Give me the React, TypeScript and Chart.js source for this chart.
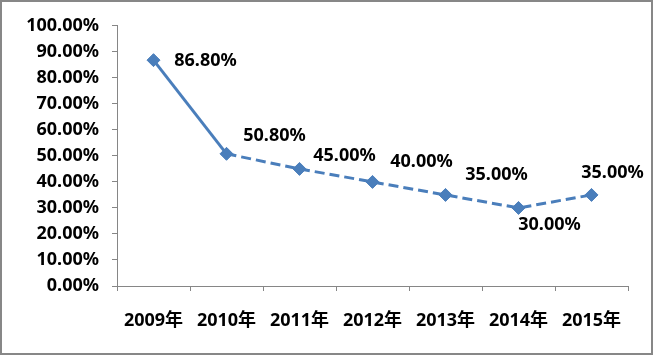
import React, { useEffect, useRef } from "react";
import { Chart, registerables } from "chart.js";

Chart.register(...registerables);

const categories = ["2009年", "2010年", "2011年", "2012年", "2013年", "2014年", "2015年"];
const values = [0.868, 0.508, 0.45, 0.4, 0.35, 0.3, 0.35];
const yTicks = [0, 0.1, 0.2, 0.3, 0.4, 0.5, 0.6, 0.7, 0.8, 0.9, 1.0];

const FONT_FAMILY = "'Noto Sans', 'Noto Sans CJK SC', sans-serif";
const BLUE = "#4A7EBB";
const AXIS = "#868686";

const labelOffsets = [
  [52, 1],
  [48, -18],
  [45, -13],
  [49, -20],
  [51, -20],
  [31, 17],
  [21, -22],
];

const fmt = (v: number) => (v * 100).toFixed(2) + "%";

const dataLabelPlugin = {
  id: "dataLabels",
  afterDatasetsDraw(chart: any) {
    const meta = chart.getDatasetMeta(0);
    const ctx = chart.ctx;
    ctx.save();
    ctx.font = `bold 18px ${FONT_FAMILY}`;
    ctx.fillStyle = "#000";
    ctx.textAlign = "center";
    ctx.textBaseline = "middle";
    meta.data.forEach((pt: any, i: number) => {
      const [dx, dy] = labelOffsets[i];
      ctx.fillText(fmt(values[i]), pt.x + dx, pt.y + dy);
    });
    ctx.restore();
  },
};

export default function App() {
  const ref = useRef<HTMLCanvasElement | null>(null);

  useEffect(() => {
    document.body.style.margin = "0";
    if (!ref.current) return;
    const chart = new Chart(ref.current, {
      type: "line",
      data: {
        labels: categories,
        datasets: [
          {
            data: values,
            borderColor: BLUE,
            backgroundColor: BLUE,
            borderWidth: 3,
            pointStyle: "rectRot",
            pointRadius: 6.5,
            pointBackgroundColor: BLUE,
            pointBorderColor: BLUE,
            pointBorderWidth: 1,
            tension: 0,
            segment: {
              borderDash: (c: any) => (c.p0DataIndex >= 1 ? [10, 5] : undefined),
            },
          },
        ],
      },
      options: {
        animation: false,
        responsive: false,
        maintainAspectRatio: false,
        layout: { padding: { left: 0, right: 23, top: 21, bottom: 0 } },
        plugins: { legend: { display: false }, tooltip: { enabled: false } },
        scales: {
          x: {
            offset: true,
            afterFit: (s: any) => {
              s.height = 67;
            },
            border: { display: true, color: AXIS, width: 1 },
            grid: {
              offset: true,
              drawOnChartArea: false,
              drawTicks: true,
              tickLength: 5,
              tickColor: AXIS,
            },
            ticks: {
              padding: 19,
              color: "#000",
              font: { family: FONT_FAMILY, size: 18, weight: "bold" },
              maxRotation: 0,
              autoSkip: false,
            },
          },
          y: {
            min: 0,
            max: 1,
            afterFit: (s: any) => {
              s.width = 115;
            },
            afterBuildTicks: (s: any) => {
              s.ticks = yTicks.map((v) => ({ value: v }));
            },
            border: { display: true, color: AXIS, width: 1 },
            grid: {
              drawOnChartArea: false,
              drawTicks: true,
              tickLength: 5,
              tickColor: AXIS,
            },
            ticks: {
              padding: 13,
              color: "#000",
              font: { family: FONT_FAMILY, size: 18, weight: "bold" },
              callback: (v: any) => fmt(Number(v)),
            },
          },
        },
      },
      plugins: [dataLabelPlugin],
    });
    return () => chart.destroy();
  }, []);

  return (
    <div
      style={{
        width: 653,
        height: 355,
        boxSizing: "border-box",
        border: "2px solid #878787",
        background: "#fff",
      }}
    >
      <canvas ref={ref} width={649} height={351} style={{ display: "block" }} />
    </div>
  );
}
